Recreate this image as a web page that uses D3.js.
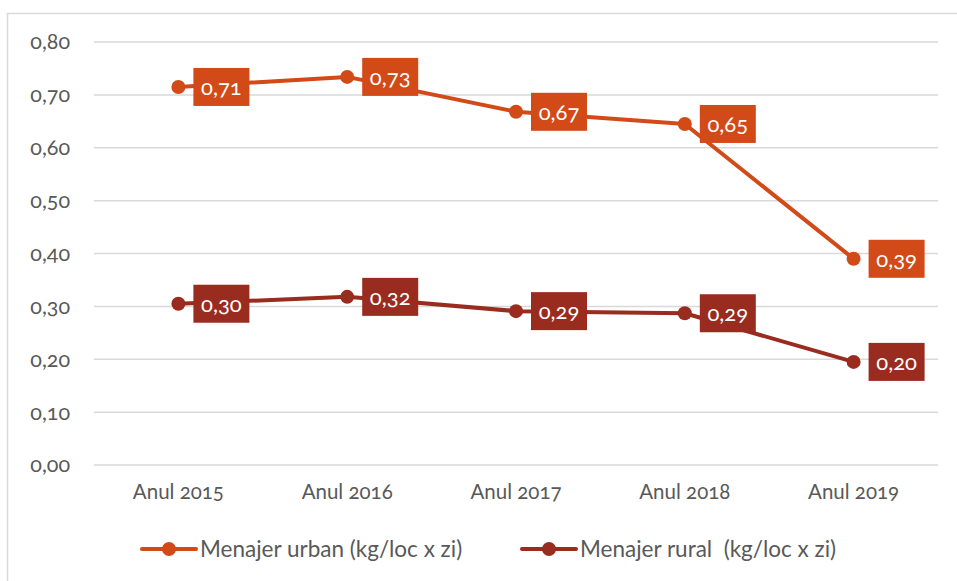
<!DOCTYPE html>
<html><head><meta charset="utf-8">
<script src="https://cdn.jsdelivr.net/npm/d3@7"></script>
<style>
body{margin:0;background:#fff;}
svg{font-family:Lato,"Open Sans",sans-serif;font-variant-numeric:oldstyle-nums;font-feature-settings:"onum";}
</style></head><body>
<svg id="c" width="957" height="581"></svg>
<script>
const categories = ["Anul 2015","Anul 2016","Anul 2017","Anul 2018","Anul 2019"];
const urban = [0.715, 0.734, 0.668, 0.645, 0.390];
const rural = [0.305, 0.318, 0.291, 0.287, 0.195];
const urbanLabels = ["0,71","0,73","0,67","0,65","0,39"];
const ruralLabels = ["0,30","0,32","0,29","0,29","0,20"];
const yTicks = [0,0.1,0.2,0.3,0.4,0.5,0.6,0.7,0.8];
const seriesNames = ["Menajer urban (kg/loc x zi)","Menajer rural  (kg/loc x zi)"];
const colors = ["#D24A18","#992B1F"];

const svg = d3.select("#c");
const fmt = d => d.toFixed(2).replace(".", ",");

svg.append("path").attr("d","M7.5,581 V13.5 H957").attr("fill","none").attr("stroke","#d9d9d9").attr("stroke-width",1.5);

const x = d3.scaleBand().domain(categories).range([94,938]);
const y = d3.scaleLinear().domain([0,0.8]).range([465,42]);

svg.append("g").selectAll("line").data(yTicks).join("line")
  .attr("x1",94).attr("x2",938)
  .attr("y1",d=>y(d)).attr("y2",d=>y(d))
  .attr("stroke","#d9d9d9").attr("stroke-width",1.5);

const yAxis = d3.axisLeft(y).tickValues(yTicks).tickFormat(fmt).tickSize(0).tickPadding(0);
const gy = svg.append("g").attr("transform","translate(70,0)").call(yAxis);
gy.select(".domain").remove();
gy.selectAll("text").attr("font-size",21.5).attr("fill","#595959").attr("font-family","Lato, sans-serif");

const xAxis = d3.axisBottom(x).tickSize(0).tickPadding(0);
const gx = svg.append("g").attr("transform","translate(0,484)").call(xAxis);
gx.select(".domain").remove();
gx.selectAll("text").attr("font-size",20.5).attr("fill","#595959").attr("font-family","Lato, sans-serif");

const cx = d => x(d) + x.bandwidth()/2;
const line = d3.line().x(d=>cx(d.c)).y(d=>y(d.v));

[[urban,urbanLabels],[rural,ruralLabels]].forEach(([vals,labs],i)=>{
  const data = categories.map((c,j)=>({c,v:vals[j],l:labs[j]}));
  const g = svg.append("g");
  g.append("path").datum(data).attr("d",line).attr("fill","none")
    .attr("stroke",colors[i]).attr("stroke-width",4).attr("stroke-linejoin","round");
  g.selectAll("circle").data(data).join("circle")
    .attr("cx",d=>cx(d.c)).attr("cy",d=>y(d.v)).attr("r",7).attr("fill",colors[i]);
  const lg = g.selectAll("g.lab").data(data).join("g").attr("class","lab")
    .attr("transform",d=>`translate(${cx(d.c)+15},${y(d.v)})`);
  lg.append("rect").attr("x",0).attr("y",-19).attr("width",56).attr("height",38).attr("fill",colors[i]);
  lg.append("text").attr("x",28).attr("y",8).attr("text-anchor","middle")
    .attr("font-size",22).attr("fill","#fff").text(d=>d.l);
});

const legX = [141, 521];
seriesNames.forEach((n,i)=>{
  const g = svg.append("g").attr("transform",`translate(${legX[i]},549)`);
  g.append("line").attr("x1",1).attr("x2",55).attr("stroke",colors[i]).attr("stroke-width",4).attr("stroke-linecap","round");
  g.append("circle").attr("cx",28).attr("r",7).attr("fill",colors[i]);
  g.append("text").attr("x",59).attr("y",8).attr("font-size",22.5).attr("fill","#595959").attr("xml:space","preserve").text(n);
});
</script>
</body></html>
